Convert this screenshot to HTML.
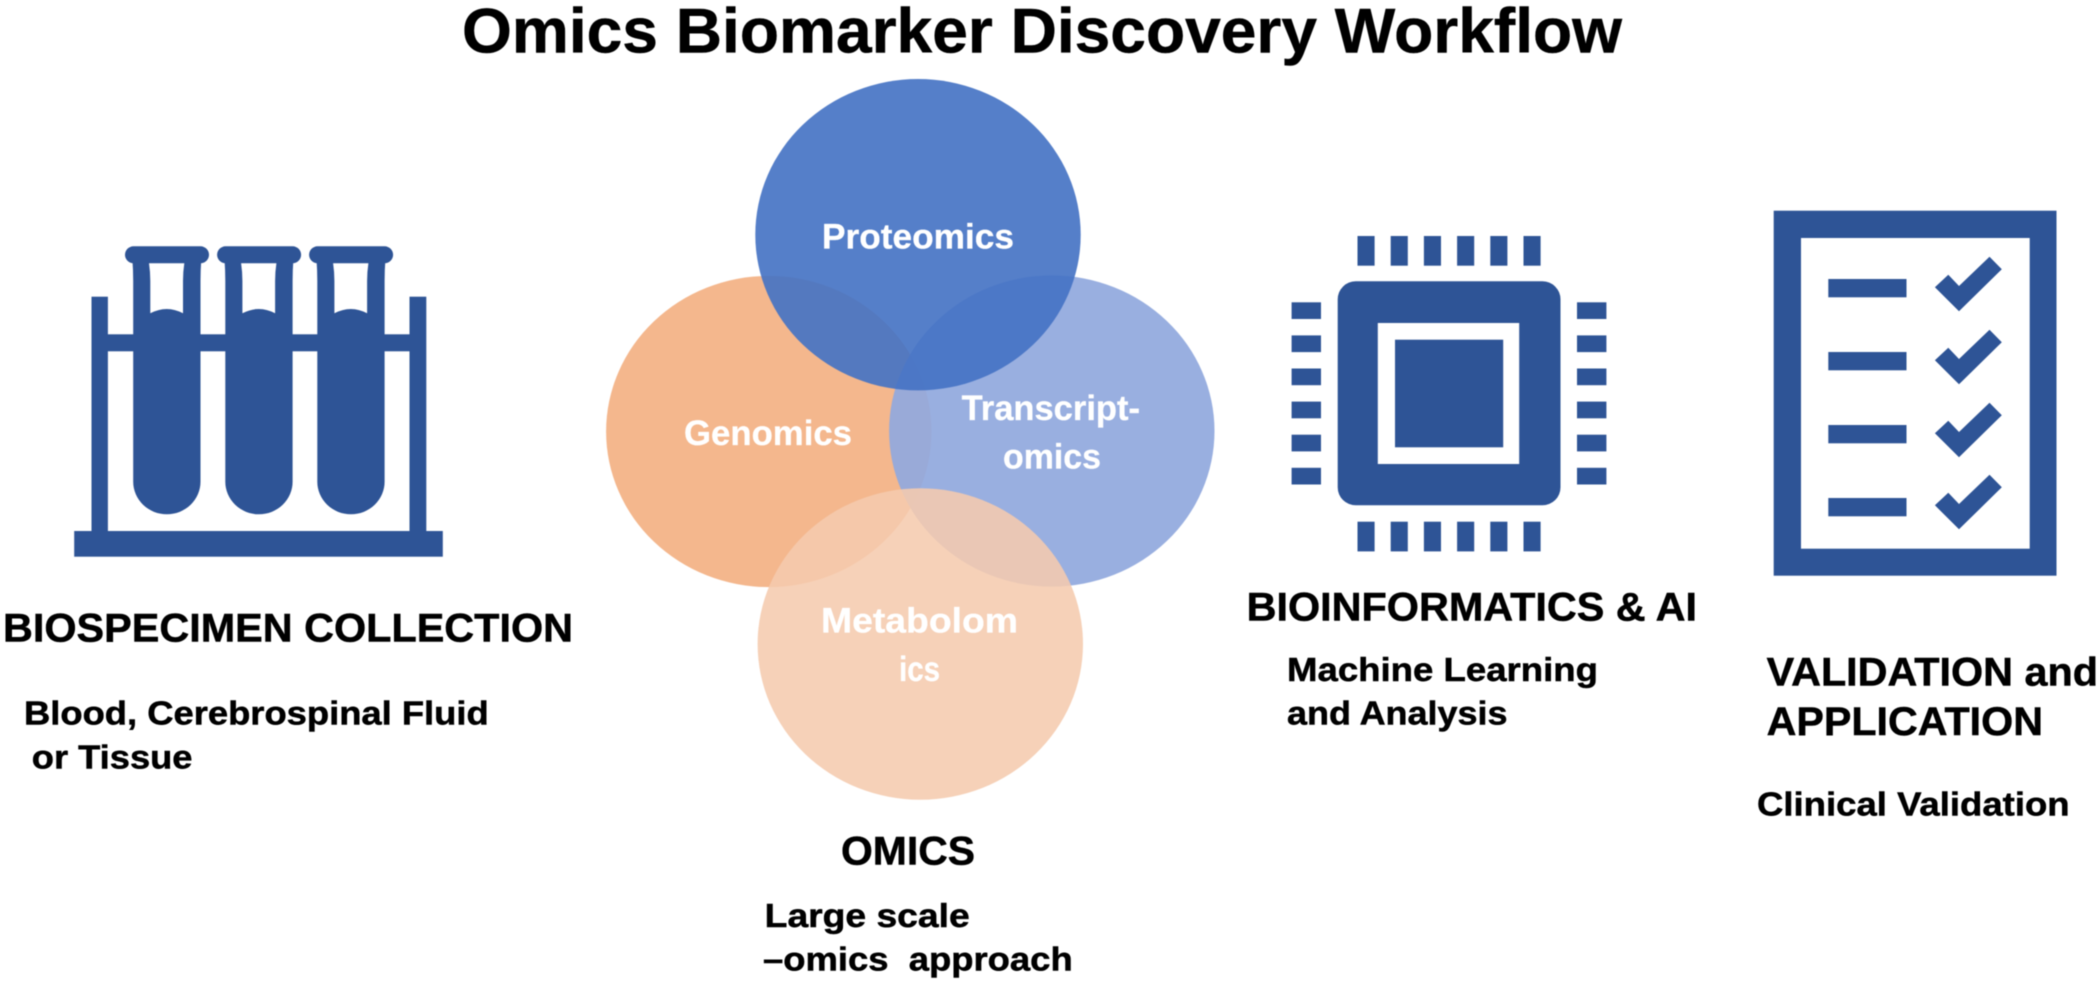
<!DOCTYPE html>
<html lang="en">
<head>
<meta charset="utf-8">
<title>Omics Biomarker Discovery Workflow</title>
<style>
html,body{margin:0;padding:0;background:#fff;width:2100px;height:984px;overflow:hidden}
svg{display:block;filter:blur(.5px)}
text{font-family:"Liberation Sans",Arial,sans-serif;font-weight:700;fill:#000;stroke:#000;stroke-width:.5px}
.w{fill:#fff;stroke:#fff;stroke-width:.3px}
</style>
</head>
<body>
<svg width="2100" height="984" viewBox="0 0 2100 984" xmlns="http://www.w3.org/2000/svg">
<rect width="2100" height="984" fill="#fff"/>
<defs>
  <g id="tube">
    <rect x="125" y="246.3" width="84" height="17" rx="8.5" fill="#2E5496"/>
    <path d="M132.3 258 Q133.2 270 133.2 281 L133.2 481.7 A33.65 32.6 0 0 0 200.5 481.7 L200.5 281 Q200.5 270 201.4 258 Z" fill="#2E5496"/>
    <path d="M149 263.3 L184.3 263.3 Q183 272 183 281 L183 313.3 Q166.8 304.7 150.3 313.3 L150.3 281 Q150.3 272 149 263.3 Z" fill="#fff"/>
  </g>
  <path id="check" d="M1934.9 287.3 L1948.3 274.7 L1959 286 L1989.5 256.7 L2001.8 269.3 L1959 311.3 Z" fill="#2E5496"/>
</defs>

<!-- Rack -->
<g fill="#2E5496">
  <rect x="91.5" y="296.7" width="16.4" height="240"/>
  <rect x="409.5" y="296.7" width="16.8" height="240"/>
  <rect x="100" y="334.3" width="320" height="17"/>
  <rect x="74.2" y="531" width="368.6" height="25.7"/>
</g>
<use href="#tube"/>
<use href="#tube" x="92.1"/>
<use href="#tube" x="184.1"/>

<!-- Venn -->
<ellipse cx="768.8" cy="431.5" rx="162.7" ry="155.6" fill="#F4B78D"/>
<ellipse cx="1051.8" cy="431" rx="162.7" ry="155.6" fill="#91A9DE" fill-opacity=".93"/>
<ellipse cx="918" cy="234.7" rx="162.7" ry="155.7" fill="#4472C4" fill-opacity=".91"/>
<ellipse cx="920.3" cy="644" rx="162.7" ry="155.7" fill="#F5CBAE" fill-opacity=".88"/>

<text class="w" x="822" y="248.5" font-size="35" textLength="192" lengthAdjust="spacingAndGlyphs">Proteomics</text>
<text class="w" x="684" y="445" font-size="35" textLength="168" lengthAdjust="spacingAndGlyphs">Genomics</text>
<text class="w" x="961.6" y="420" font-size="35" textLength="178.4" lengthAdjust="spacingAndGlyphs">Transcript-</text>
<text class="w" x="1003" y="468.5" font-size="35" textLength="98" lengthAdjust="spacingAndGlyphs">omics</text>
<text class="w" x="821" y="632.6" font-size="35" textLength="197" lengthAdjust="spacingAndGlyphs">Metabolom</text>
<text class="w" x="899" y="681" font-size="35" textLength="41" lengthAdjust="spacingAndGlyphs">ics</text>

<!-- Chip -->
<g fill="#2E5496">
  <rect x="1337.7" y="281.3" width="222.8" height="224" rx="18" ry="18"/>
  <rect x="1357.5" y="236" width="17.1" height="29.7"/>
  <rect x="1390.7" y="236" width="17.1" height="29.7"/>
  <rect x="1423.9" y="236" width="17.1" height="29.7"/>
  <rect x="1457.1" y="236" width="17.1" height="29.7"/>
  <rect x="1490.3" y="236" width="17.1" height="29.7"/>
  <rect x="1523.5" y="236" width="17.1" height="29.7"/>
  <rect x="1357.5" y="521.7" width="17.1" height="29.7"/>
  <rect x="1390.7" y="521.7" width="17.1" height="29.7"/>
  <rect x="1423.9" y="521.7" width="17.1" height="29.7"/>
  <rect x="1457.1" y="521.7" width="17.1" height="29.7"/>
  <rect x="1490.3" y="521.7" width="17.1" height="29.7"/>
  <rect x="1523.5" y="521.7" width="17.1" height="29.7"/>
  <rect x="1291.6" y="302.3" width="29.4" height="16.7"/>
  <rect x="1291.6" y="335.4" width="29.4" height="16.7"/>
  <rect x="1291.6" y="368.5" width="29.4" height="16.7"/>
  <rect x="1291.6" y="401.6" width="29.4" height="16.7"/>
  <rect x="1291.6" y="434.7" width="29.4" height="16.7"/>
  <rect x="1291.6" y="467.8" width="29.4" height="16.7"/>
  <rect x="1577" y="302.3" width="29.4" height="16.7"/>
  <rect x="1577" y="335.4" width="29.4" height="16.7"/>
  <rect x="1577" y="368.5" width="29.4" height="16.7"/>
  <rect x="1577" y="401.6" width="29.4" height="16.7"/>
  <rect x="1577" y="434.7" width="29.4" height="16.7"/>
  <rect x="1577" y="467.8" width="29.4" height="16.7"/>
</g>
<rect x="1377.8" y="323" width="141.4" height="141" fill="#fff"/>
<rect x="1395" y="339.7" width="108.2" height="107.6" fill="#2E5496"/>

<!-- Checklist -->
<rect x="1773.7" y="210.7" width="282.8" height="365" fill="#2E5496"/>
<rect x="1801" y="238" width="228.7" height="310.7" fill="#fff"/>
<g fill="#2E5496">
  <rect x="1828.3" y="279" width="78.2" height="18.3"/>
  <rect x="1828.3" y="352" width="78.2" height="18.3"/>
  <rect x="1828.3" y="425" width="78.2" height="18.3"/>
  <rect x="1828.3" y="498" width="78.2" height="18.3"/>
</g>
<use href="#check"/>
<use href="#check" y="73"/>
<use href="#check" y="146"/>
<use href="#check" y="218"/>

<!-- Labels -->
<text x="462" y="52.5" font-size="63" textLength="1160" lengthAdjust="spacingAndGlyphs">Omics Biomarker Discovery Workflow</text>

<text x="3" y="641.7" font-size="40" textLength="570" lengthAdjust="spacingAndGlyphs">BIOSPECIMEN COLLECTION</text>
<text x="24" y="724.3" font-size="33" textLength="464.7" lengthAdjust="spacingAndGlyphs">Blood, Cerebrospinal Fluid</text>
<text x="31.8" y="768.3" font-size="33" textLength="160.7" lengthAdjust="spacingAndGlyphs">or Tissue</text>

<text x="841" y="864.7" font-size="40" textLength="134" lengthAdjust="spacingAndGlyphs">OMICS</text>
<text x="764.7" y="927" font-size="33" textLength="205" lengthAdjust="spacingAndGlyphs">Large scale</text>
<text x="763" y="970.5" font-size="33" textLength="309.7" lengthAdjust="spacingAndGlyphs" xml:space="preserve">–omics  approach</text>

<text x="1246.6" y="620.7" font-size="40" textLength="450.4" lengthAdjust="spacingAndGlyphs">BIOINFORMATICS &amp; AI</text>
<text x="1287" y="681" font-size="33" textLength="311" lengthAdjust="spacingAndGlyphs">Machine Learning</text>
<text x="1287" y="724.3" font-size="33" textLength="220.5" lengthAdjust="spacingAndGlyphs">and Analysis</text>

<text x="1766.6" y="685.3" font-size="40" textLength="331.4" lengthAdjust="spacingAndGlyphs">VALIDATION and</text>
<text x="1766.6" y="735" font-size="40" textLength="276.4" lengthAdjust="spacingAndGlyphs">APPLICATION</text>
<text x="1757" y="815.7" font-size="33" textLength="312.6" lengthAdjust="spacingAndGlyphs">Clinical Validation</text>
</svg>
</body>
</html>
